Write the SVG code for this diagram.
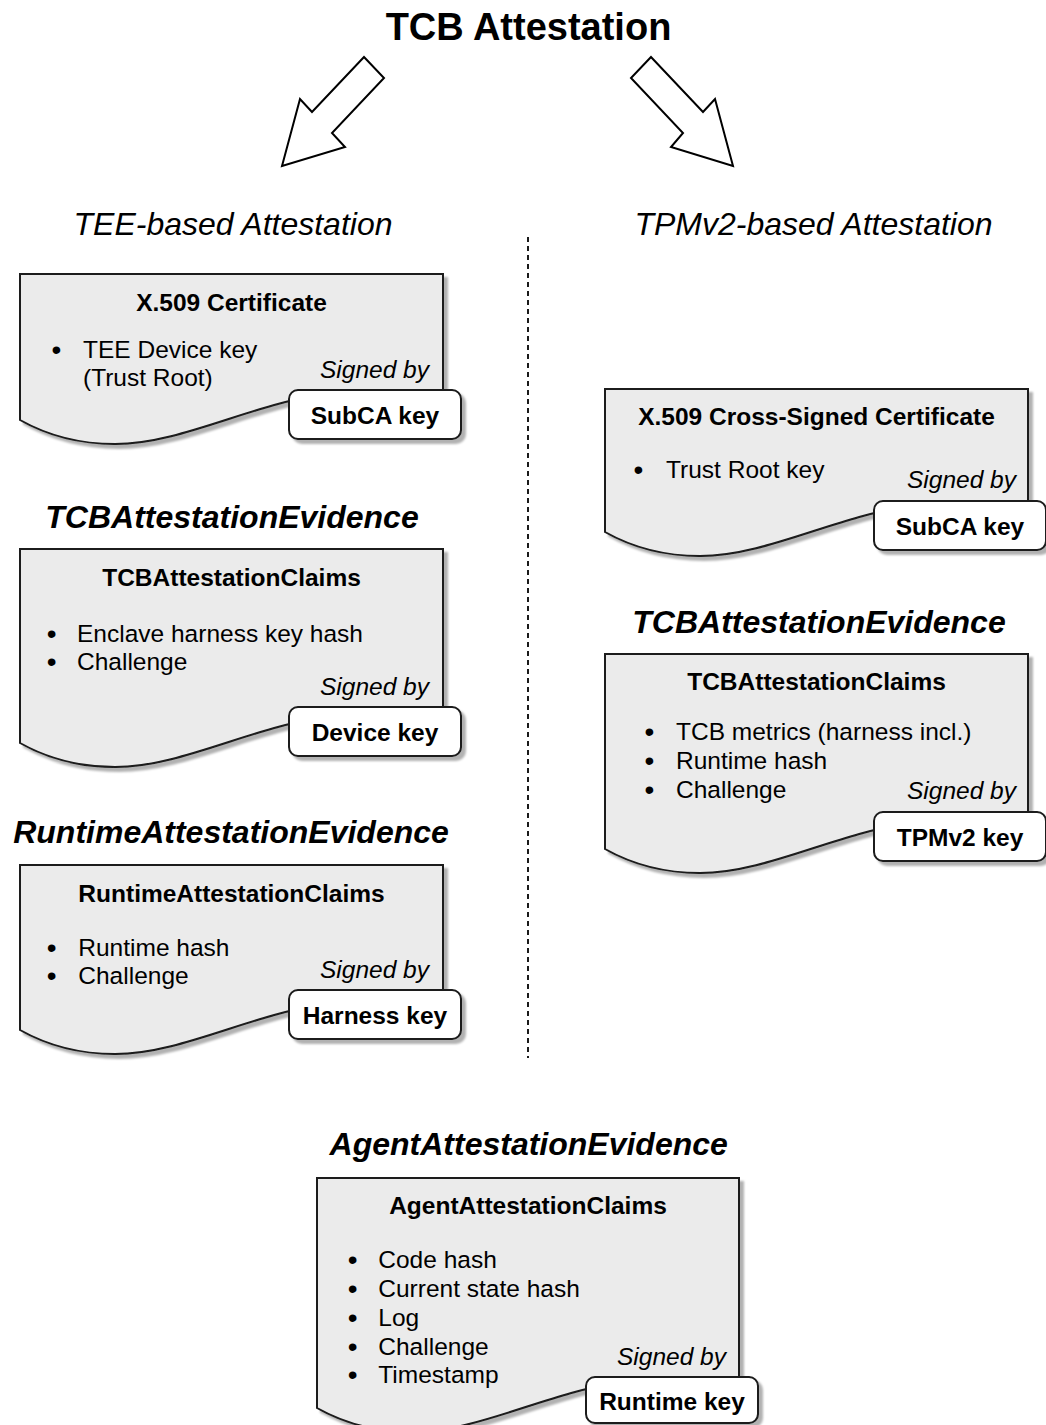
<svg xmlns="http://www.w3.org/2000/svg" width="1046" height="1425" viewBox="0 0 1046 1425">
  <defs>
    <filter id="shadow" x="-5%" y="-5%" width="115%" height="120%">
      <feDropShadow dx="4" dy="4" stdDeviation="1.2" flood-color="#000" flood-opacity="0.3"/>
    </filter>
    <style>
      text { font-family: "Liberation Sans", Arial, sans-serif; fill: #000; }
      .title { font-size: 38px; font-weight: bold; text-anchor: middle; }
      .branch { font-size: 32px; font-style: italic; text-anchor: middle; }
      .evidence { font-size: 32px; font-style: italic; font-weight: bold; text-anchor: middle; }
      .doc { fill: #ebebeb; stroke: #1a1a1a; stroke-width: 2; filter: url(#shadow); }
      .key { fill: #fff; stroke: #1a1a1a; stroke-width: 2; filter: url(#shadow); }
      .head { font-size: 24.5px; font-weight: bold; text-anchor: middle; }
      .item { font-size: 24.5px; }
      .bullet { font-size: 28px; text-anchor: middle; }
      .signed { font-size: 24.5px; font-style: italic; text-anchor: end; }
      .keytext { font-size: 24.5px; font-weight: bold; text-anchor: middle; }
      .block-arrow { fill: #fff; stroke: #000; stroke-width: 2; stroke-linejoin: miter; }
      .divider { stroke: #1a1a1a; stroke-width: 2; stroke-dasharray: 5 4; fill: none; }
    </style>
  </defs>

  <rect width="1046" height="1425" fill="#fff"/>

  <!-- headings -->
  <text class="title" x="528.5" y="40">TCB Attestation</text>
  <text class="branch" x="233" y="235">TEE-based Attestation</text>
  <text class="branch" x="813.5" y="235">TPMv2-based Attestation</text>

  <!-- block arrows and the column divider -->
  <g id="connectors">
    <polygon class="block-arrow" points="364,57 384,78 332,133 345,147 282,166 300,99 312,112"/>
    <polygon class="block-arrow" points="651,57 631,78 683,133 671,147 733,166 715,99 703,112"/>
    <line class="divider" x1="528" y1="237" x2="528" y2="1058"/>
  </g>

  <!-- TEE: X.509 certificate -->
  <g id="tee-cert" transform="translate(20,274)">
    <path class="doc" d="M0,0 H423 V116 C390,116 340,117 300,121 C230,131 160,170 95,170 C55,170 25,160 0,146 Z"/>
    <text class="head" x="211.5" y="37">X.509 Certificate</text>
    <text class="bullet" x="36.5" y="85">•</text>
    <text class="item" x="63" y="84">TEE Device key</text>
    <text class="item" x="63" y="111.5">(Trust Root)</text>
    <text class="signed" x="409" y="104">Signed by</text>
    <rect class="key" x="269" y="116" width="172" height="49" rx="9"/>
    <text class="keytext" x="355" y="149.5">SubCA key</text>
  </g>

  <!-- TEE: TCB attestation evidence -->
  <g id="tee-tcb-evidence" transform="translate(20,549)">
    <text class="evidence" x="212" y="-21">TCBAttestationEvidence</text>
    <path class="doc" d="M0,0 H423 V164 C390,164 340,165 300,169 C230,179 160,218 95,218 C55,218 25,208 0,194 Z"/>
    <text class="head" x="211.5" y="37">TCBAttestationClaims</text>
    <text class="bullet" x="31.7" y="93.7">•</text>
    <text class="item" x="57" y="92.7">Enclave harness key hash</text>
    <text class="bullet" x="31.7" y="122">•</text>
    <text class="item" x="57" y="121">Challenge</text>
    <text class="signed" x="409" y="146">Signed by</text>
    <rect class="key" x="269" y="158" width="172" height="49" rx="9"/>
    <text class="keytext" x="355" y="191.5">Device key</text>
  </g>

  <!-- TEE: runtime attestation evidence -->
  <g id="tee-runtime-evidence" transform="translate(20,865)">
    <text class="evidence" x="211" y="-22">RuntimeAttestationEvidence</text>
    <path class="doc" d="M0,0 H423 V135 C390,135 340,136 300,140 C230,150 160,189 95,189 C55,189 25,179 0,165 Z"/>
    <text class="head" x="211.5" y="37">RuntimeAttestationClaims</text>
    <text class="bullet" x="31.7" y="92">•</text>
    <text class="item" x="58.3" y="91">Runtime hash</text>
    <text class="bullet" x="31.7" y="120.3">•</text>
    <text class="item" x="58.3" y="119.3">Challenge</text>
    <text class="signed" x="409" y="113">Signed by</text>
    <rect class="key" x="269" y="125" width="172" height="49" rx="9"/>
    <text class="keytext" x="355" y="158.5">Harness key</text>
  </g>

  <!-- TPMv2: cross-signed certificate -->
  <g id="tpm-cert" transform="translate(605,389)">
    <path class="doc" d="M0,0 H423 V113 C390,113 340,114 300,118 C230,128 160,167 95,167 C55,167 25,157 0,143 Z"/>
    <text class="head" x="211.5" y="36">X.509 Cross-Signed Certificate</text>
    <text class="bullet" x="33.3" y="90">•</text>
    <text class="item" x="61" y="89">Trust Root key</text>
    <text class="signed" x="411" y="99">Signed by</text>
    <rect class="key" x="269" y="112" width="172" height="49" rx="9"/>
    <text class="keytext" x="355" y="145.5">SubCA key</text>
  </g>

  <!-- TPMv2: TCB attestation evidence -->
  <g id="tpm-tcb-evidence" transform="translate(605,654)">
    <text class="evidence" x="214" y="-21">TCBAttestationEvidence</text>
    <path class="doc" d="M0,0 H423 V165 C390,165 340,166 300,170 C230,180 160,219 95,219 C55,219 25,209 0,195 Z"/>
    <text class="head" x="211.5" y="36">TCBAttestationClaims</text>
    <text class="bullet" x="44.3" y="87">•</text>
    <text class="item" x="71" y="86">TCB metrics (harness incl.)</text>
    <text class="bullet" x="44.3" y="116.3">•</text>
    <text class="item" x="71" y="115.3">Runtime hash</text>
    <text class="bullet" x="44.3" y="145.3">•</text>
    <text class="item" x="71" y="144.3">Challenge</text>
    <text class="signed" x="411" y="145">Signed by</text>
    <rect class="key" x="269" y="158" width="172" height="49" rx="9"/>
    <text class="keytext" x="355" y="191.5">TPMv2 key</text>
  </g>

  <!-- agent attestation evidence -->
  <g id="agent-evidence" transform="translate(317,1178)">
    <text class="evidence" x="211.7" y="-23">AgentAttestationEvidence</text>
    <path class="doc" d="M0,0 H422 V200 C390,200 340,201 300,205 C230,215 160,254 95,254 C55,254 25,244 0,230 Z"/>
    <text class="head" x="211" y="35.5">AgentAttestationClaims</text>
    <text class="bullet" x="35.7" y="91">•</text>
    <text class="item" x="61.3" y="90">Code hash</text>
    <text class="bullet" x="35.7" y="119.5">•</text>
    <text class="item" x="61.3" y="118.5">Current state hash</text>
    <text class="bullet" x="35.7" y="148.7">•</text>
    <text class="item" x="61.3" y="147.7">Log</text>
    <text class="bullet" x="35.7" y="177.7">•</text>
    <text class="item" x="61.3" y="176.7">Challenge</text>
    <text class="bullet" x="35.7" y="206">•</text>
    <text class="item" x="61.3" y="205">Timestamp</text>
    <text class="signed" x="409" y="187">Signed by</text>
    <rect class="key" x="269" y="199" width="172" height="46" rx="9"/>
    <text class="keytext" x="355" y="232">Runtime key</text>
  </g>
</svg>
